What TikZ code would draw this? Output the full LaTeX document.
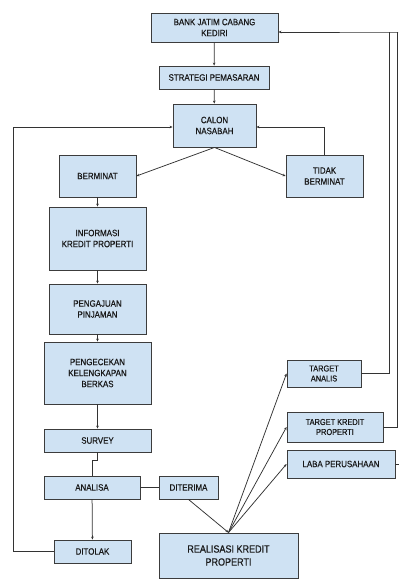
\documentclass[tikz,border=0pt]{standalone}
\usepackage{fontspec}
\setmainfont{Liberation Sans}[FakeStretch=0.86,FakeBold=0.6]
\usepackage{tikz}
\usetikzlibrary{arrows.meta,positioning,calc}
\definecolor{boxblue}{HTML}{CFE2F3}
\definecolor{boxline}{HTML}{3C3C3C}

\begin{document}
\begin{tikzpicture}[x=1pt,y=-1pt,>={Stealth[length=3pt,width=2.6pt]},
  font=\fontsize{9.2}{11}\selectfont,
  bx/.style={draw=boxline,line width=0.9pt,fill=boxblue,align=center,inner sep=1pt,text=black!90},
  ln/.style={draw=black!80,line width=0.75pt},
  m/.style={ln,->}]

  \useasboundingbox (0,0) rectangle (399,580);

  % main column
  \node[bx,minimum width=127,minimum height=29] (bank) at (214.5,27.5) {BANK JATIM CABANG\\KEDIRI};
  \node[bx,minimum width=110,minimum height=23] (strat) at (214,77.5) {STRATEGI PEMASARAN};
  \node[bx,minimum width=83,minimum height=43] (calon) at (214.5,125.5) {CALON\\NASABAH};
  \node[bx,minimum width=77,minimum height=42] (minat) at (97.5,176) {BERMINAT};
  \node[bx,minimum width=77,minimum height=42] (tdkminat) at (324.5,176) {TIDAK\\BERMINAT};
  \node[bx,minimum width=97,minimum height=63] (info) at (97.5,238.5) {INFORMASI\\KREDIT PROPERTI};
  \node[bx,minimum width=97,minimum height=50] (aju) at (97.5,309) {PENGAJUAN\\PINJAMAN};
  \node[bx,minimum width=107,minimum height=62] (cek) at (97.5,373) {PENGECEKAN\\KELENGKAPAN\\BERKAS};
  \node[bx,minimum width=107,minimum height=23] (survey) at (97.5,440.5) {SURVEY};
  \node[bx,minimum width=96,minimum height=23] (analisa) at (92,487.5) {ANALISA};
  \node[bx,minimum width=59,minimum height=23] (terima) at (188.5,487.5) {DITERIMA};
  \node[bx,minimum width=77,minimum height=23] (tolak) at (92.5,551.5) {DITOLAK};
  \node[bx,minimum width=139,minimum height=45,font=\fontsize{10.5}{13}\selectfont] (real) at (228.5,555.5) {REALISASI KREDIT\\PROPERTI};

  % targets on the right
  \node[bx,minimum width=74,minimum height=27,font=\fontsize{8.6}{10}\selectfont] (tanalis) at (324,373.5) {TARGET\\ANALIS};
  \node[bx,minimum width=96,minimum height=30,font=\fontsize{8.6}{10}\selectfont] (tkredit) at (335,427) {TARGET KREDIT\\PROPERTI};
  \node[bx,minimum width=108,minimum height=28] (laba) at (341,464) {LABA PERUSAHAAN};

  \coordinate (ret) at (397,32);
  \coordinate (labaend) at (399,464);

  % flow
  \draw[m] (bank) -- (strat);
  \draw[m] (strat) -- (calon);
  \draw[m] (calon.south) -- (minat.east);
  \draw[m] (calon.south) -- (tdkminat.west);
  \draw[m] (tdkminat.north) |- ([yshift=-1.5pt]calon.east);
  \draw[m] (minat) -- (info);
  \draw[m] (info) -- (aju);
  \draw[m] (aju) -- (cek);
  \draw[m] (cek) -- (survey);
  \draw[ln] (survey.south) -- ++(0,8) -| (analisa.north);
  \draw[m] (analisa) -- (tolak);
  \draw[ln] (analisa) -- (terima);
  \draw[m] (tolak.west) -- ++(-40,0) |- ([yshift=-1.5pt]calon.west);
  \draw[m] (terima.south) -- (real.north);

  % realisasi to targets, back to the bank
  \draw[m] (real.north) -- (tanalis.west);
  \draw[m] (real.north) -- (tkredit.west);
  \draw[m] (real.north) -- (laba.west);
  \draw[ln] (tanalis.east) -| (ret -| 389,0);
  \draw[ln] (tkredit.east) -| (ret);
  \draw[m] (ret) -- ++(1,0) -- (bank.east |- ret);
  \draw[ln] (laba.east) -- (labaend);
\end{tikzpicture}
\end{document}
